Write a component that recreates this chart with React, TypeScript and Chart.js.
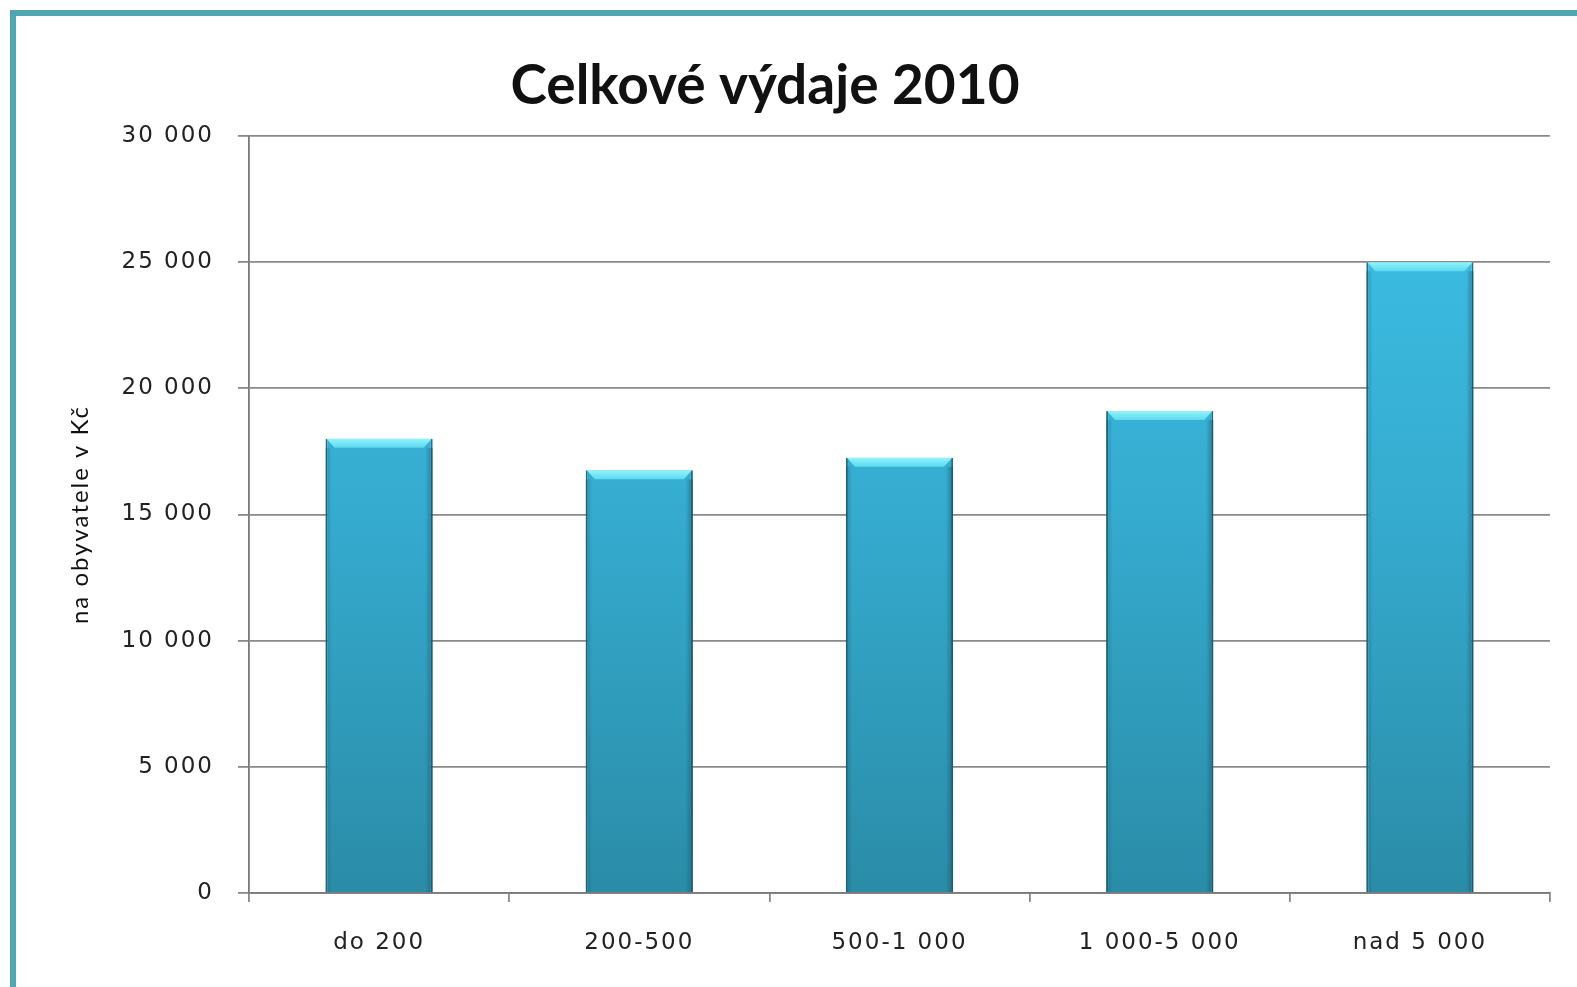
import React, { useEffect, useRef } from "react";
import { Chart, registerables } from "chart.js";

Chart.register(...registerables);

const TITLE = "Celkové výdaje 2010";
const Y_TITLE = "na obyvatele v Kč";
const categories = ["do 200", "200-500", "500-1 000", "1 000-5 000", "nad 5 000"];
const values = [18000, 16750, 17250, 19100, 25000];
const yMin = 0;
const yMax = 30000;
const yStep = 5000;

const fmt = (v: number) => String(v).replace(/\B(?=(\d{3})+(?!\d))/g, " ");

export default function App() {
  const ref = useRef<HTMLCanvasElement | null>(null);
  useEffect(() => {
    if (!ref.current) return;
    const spacingPlugin = {
      id: "spacing",
      beforeInit(chart: any) {
        (chart.ctx as any).letterSpacing = "2px";
      },
      beforeUpdate(chart: any) {
        (chart.ctx as any).letterSpacing = "2px";
      },
      beforeDraw(chart: any) {
        (chart.ctx as any).letterSpacing = "2px";
      },
    };
    const titlePlugin = {
      id: "titleAt",
      afterDraw(chart: any) {
        const ctx = chart.ctx;
        ctx.save();
        (ctx as any).letterSpacing = "0px";
        ctx.font = "bold 55px Lato";
        ctx.fillStyle = "#111";
        ctx.textAlign = "center";
        ctx.textBaseline = "middle";
        ctx.fillText(TITLE, 749, 70);
        ctx.restore();
      },
    };
    const bevelPlugin = {
      id: "bevel",
      afterDatasetsDraw(chart: any) {
        const ctx = chart.ctx;
        const meta = chart.getDatasetMeta(0);
        ctx.save();
        meta.data.forEach((bar: any) => {
          const w = bar.width;
          const l = bar.x - w / 2;
          const r = bar.x + w / 2;
          const t = bar.y;
          const h = 9;
          ctx.beginPath();
          ctx.moveTo(l + 1, t);
          ctx.lineTo(r - 1, t);
          ctx.lineTo(r - 9, t + h);
          ctx.lineTo(l + 9, t + h);
          ctx.closePath();
          const g = ctx.createLinearGradient(0, t, 0, t + h);
          g.addColorStop(0, "#92f4fc");
          g.addColorStop(1, "#5cd9f0");
          ctx.fillStyle = g;
          ctx.fill();
          const sg = ctx.createLinearGradient(l, 0, r, 0);
          sg.addColorStop(0, "rgba(20,80,100,0.35)");
          sg.addColorStop(0.06, "rgba(20,80,100,0)");
          sg.addColorStop(0.93, "rgba(20,80,100,0)");
          sg.addColorStop(1, "rgba(20,70,90,0.5)");
          ctx.fillStyle = sg;
          ctx.fillRect(l, t + h, w, bar.base - t - h);
        });
        ctx.restore();
      },
    };
    const chart = new Chart(ref.current, {
      type: "bar",
      data: {
        labels: categories,
        datasets: [
          {
            data: values,
            backgroundColor: (c: any) => {
              const area = c.chart.chartArea;
              if (!area) return "#35aed0";
              const g = c.chart.ctx.createLinearGradient(0, area.top, 0, area.bottom);
              g.addColorStop(0, "#3ec2e8");
              g.addColorStop(0.5, "#35abcf");
              g.addColorStop(1, "#2a8ca7");
              return g;
            },
            borderColor: "#1f6f86",
            borderWidth: { left: 2, right: 2, top: 0, bottom: 0 },
            borderSkipped: false,
            barPercentage: 0.412,
            categoryPercentage: 1,
          },
        ],
      },
      plugins: [spacingPlugin, titlePlugin, bevelPlugin],
      options: {
        animation: false,
        responsive: true,
        maintainAspectRatio: false,
        layout: { padding: { top: 120, right: 27, left: 0, bottom: 0 } },
        plugins: { legend: { display: false }, tooltip: { enabled: false }, title: { display: false } },
        scales: {
          x: {
            afterFit: (s: any) => {
              s.height = 94;
            },
            grid: {
              display: true,
              drawOnChartArea: false,
              drawTicks: true,
              tickLength: 9,
              color: "#8a8a8a",
              lineWidth: 1.8,
            },
            border: { display: true, color: "#7a7a7a", width: 1.8 },
            ticks: {
              color: "#222",
              font: { family: "DejaVu Sans", size: 23 },
              padding: 27,
              maxRotation: 0,
            },
          },
          y: {
            min: yMin,
            max: yMax,
            afterFit: (s: any) => {
              s.width = 233;
            },
            grid: {
              color: "#8a8a8a",
              lineWidth: 1.8,
              tickLength: 11,
            },
            border: { display: true, color: "#7a7a7a", width: 1.8 },
            ticks: {
              stepSize: yStep,
              color: "#222",
              font: { family: "DejaVu Sans", size: 23 },
              padding: 24,
              callback: (v: any) => fmt(Number(v)),
            },
            title: {
              display: true,
              text: Y_TITLE,
              color: "#111",
              font: { family: "Lato", size: 24 },
              padding: { top: 50, bottom: 0 },
            },
          },
        },
      },
    });
    return () => chart.destroy();
  }, []);
  return (
    <>
      <div
        style={{
          position: "fixed",
          left: 10,
          top: 10,
          width: 1600,
          height: 973,
          borderLeft: "6px solid #4fa6b1",
          borderTop: "6px solid #4fa6b1",
          borderBottom: "3px solid #c6ecf4",
          background: "#fff",
        }}
      />
      <div style={{ position: "fixed", left: 16, top: 16, width: 1561, height: 971 }}>
        <canvas ref={ref} />
      </div>
    </>
  );
}
